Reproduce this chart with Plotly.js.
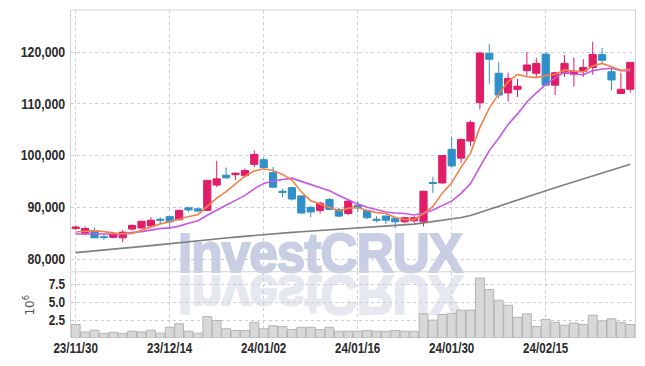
<!DOCTYPE html>
<html>
<head>
<meta charset="utf-8">
<script src="https://cdn.plot.ly/plotly-3.0.1.min.js"></script>
<style>
  html, body { margin:0; padding:0; background:#ffffff; }
  #wrap { position:relative; width:645px; height:366px; overflow:hidden; }
  #chart { position:absolute; left:0; top:0; width:645px; height:366px; z-index:2; }
  .wm { position:absolute; left:178px; top:225px; font-family:'Liberation Sans', Arial, sans-serif;
        font-weight:bold; font-size:56px; line-height:56px; white-space:nowrap; z-index:1;
        letter-spacing:-1px; }
  #wm1 { color:#c8cee3; -webkit-text-stroke:2px #c8cee3; transform-origin:0 0; transform:scaleX(0.915); }
  #wm2 { color:#e6e8f0; -webkit-text-stroke:2px #e6e8f0; transform-origin:0 49px; transform:scaleX(0.915) scaleY(-1); }
</style>
</head>
<body>
<div id="wrap">
  <div class="wm" id="wm1">InvestCRUX</div>
  <div class="wm" id="wm2">InvestCRUX</div>
  <div id="chart"></div>
</div>
<script>
const dates = ['23/11/30','23/12/01','23/12/04','23/12/05','23/12/06','23/12/07','23/12/08','23/12/11','23/12/12','23/12/13',
'23/12/14','23/12/15','23/12/18','23/12/19','23/12/20','23/12/21','23/12/22','23/12/26','23/12/27','23/12/28',
'24/01/02','24/01/03','24/01/04','24/01/05','24/01/08','24/01/09','24/01/10','24/01/11','24/01/12','24/01/15',
'24/01/16','24/01/17','24/01/18','24/01/19','24/01/22','24/01/23','24/01/24','24/01/25','24/01/26','24/01/29',
'24/01/30','24/01/31','24/02/01','24/02/02','24/02/05','24/02/06','24/02/07','24/02/08','24/02/13','24/02/14',
'24/02/15','24/02/16','24/02/19','24/02/20','24/02/21','24/02/22','24/02/23','24/02/26','24/02/27','24/02/28'];

const openP = [85900,85000,85400,84300,84200,84100,85800,86000,86400,87700,
88200,87600,89900,89700,89400,94300,96200,96300,96100,98300,
99200,96700,93100,93800,92200,90000,89400,91500,89600,88800,
90400,89400,87700,88300,87900,87200,87400,87200,94800,94700,
101200,99500,102800,110200,119700,115900,112100,112800,116400,115900,
119600,113600,115900,115700,116300,117000,119500,116200,112000,112800];
const highP = [86500,86300,86100,84700,85200,85600,86700,87400,88100,88100,
88300,89600,90100,89900,95300,99000,97700,96700,97500,101000,
99600,97800,93600,94000,92300,90200,91100,91800,89900,91400,
91200,89500,88300,88500,88200,88100,88300,93200,95900,100100,
103600,103300,106800,120000,121500,118100,116000,114800,120000,118900,
120000,116200,119400,118900,118600,122000,120800,116800,116000,118000];
const lowP = [85600,84600,84100,83700,84000,83300,85500,85900,86200,86900,
85700,87500,89100,89100,89300,93900,95500,95300,95700,97800,
97500,93700,92000,91300,88800,88100,88800,89500,88100,88500,
89100,87700,87100,86800,86000,86900,87000,86300,92800,94600,
97800,98600,101800,108900,113900,111000,110400,111300,115400,115200,
113500,111700,115200,113300,115200,115600,117800,112600,111900,112200];
const closeP = [86200,85900,84100,84200,84800,85200,86500,87300,87500,87500,
87200,89400,89500,89300,95200,95500,95700,96600,97100,100200,
97700,93900,92900,91600,88900,89100,90800,89600,88300,91200,
89900,88000,87500,87500,87200,88000,88000,93100,94600,100000,
98000,103100,106400,119800,118600,111700,114900,113400,117500,117800,
113600,116000,117800,116300,117000,119500,118400,114600,112800,118000];

const ma5 = [85230,85400,85500,85300,85040,84840,84960,85600,86260,86800,
87200,87780,88220,88580,90120,91780,93040,94460,96020,97020,
97460,97100,96360,95260,93000,91280,90660,90000,89340,89800,
89960,89400,88980,88820,88020,87640,87640,88760,90180,92740,
94740,97760,100420,105460,109180,111920,114280,115680,115220,115060,
115440,115660,116540,116300,116140,117320,117800,117160,116460,116660];
const ma10 = [84850,84850,84800,84800,84850,84950,85100,85300,85600,85920,
86020,86370,86910,87420,88460,89490,90410,91340,92300,93570,
94620,95070,95410,95640,95010,94370,93880,93180,92300,91400,
90620,90030,89490,89080,88910,88800,88520,88870,89500,90380,
91190,92700,94590,97820,100960,103330,106020,108050,110340,112120,
113680,114970,116110,115760,115600,116380,116730,116850,116380,116400];
const ma60 = [81250,81400,81560,81720,81900,82080,82260,82430,82600,82800,
83000,83170,83330,83500,83700,83900,84080,84250,84420,84580,
84750,84900,85030,85160,85280,85400,85530,85660,85800,85950,
86100,86190,86280,86370,86460,86560,86750,87000,87250,87480,
87720,88030,88400,89000,89650,90300,90900,91500,92100,92700,
93250,93800,94350,94900,95450,96050,96650,97150,97650,98300];
const volume = [1.9,0.85,1.1,0.65,0.8,0.65,0.95,0.85,1.1,0.68,
1.5,2.0,0.95,0.68,3.0,2.45,1.3,1.05,1.05,2.2,
1.3,1.72,1.6,1.2,1.5,1.5,1.2,1.5,0.95,0.95,
0.95,1.05,0.95,0.95,1.05,0.95,0.95,3.4,2.5,3.3,
3.45,3.9,3.9,8.4,6.8,5.3,4.6,2.9,3.4,1.6,
2.6,2.2,1.8,2.1,1.9,3.2,2.4,2.7,2.2,1.9];

const tickDates = [dates[0],dates[10],dates[20],dates[30],dates[40],dates[50]];
const priceTicks = [80000,90000,100000,110000,120000];
const volTicks = [2.5,5,7.5];
const volTickText = ['2.5','5.0','7.5'];

const UP = '#e11d68', DOWN = '#2f90c8';
const tickFont = {family:'Liberation Sans, Arial, sans-serif', size:14, color:'#2b2b2b', weight:'bold'};
const gridC = '#c9ccd9';

const traces = [
  {type:'bar', x:dates, y:volume, xaxis:'x', yaxis:'y2',
   marker:{color:'#d8d8d8', line:{color:'#b4b4b4', width:1}}, hoverinfo:'skip'},
  {type:'scatter', mode:'lines', x:dates, y:ma60, xaxis:'x', yaxis:'y',
   line:{color:'#7f7f7f', width:1.6}},
  {type:'scatter', mode:'lines', x:dates, y:ma10, xaxis:'x', yaxis:'y',
   line:{color:'#c656e6', width:1.6}},
  {type:'scatter', mode:'lines', x:dates, y:ma5, xaxis:'x', yaxis:'y',
   line:{color:'#f2824a', width:1.6}},
  {type:'candlestick', x:dates, open:openP, high:highP, low:lowP, close:closeP,
   xaxis:'x', yaxis:'y', whiskerwidth:0,
   increasing:{line:{color:UP, width:1}, fillcolor:UP},
   decreasing:{line:{color:DOWN, width:1}, fillcolor:DOWN}}
];

const layout = {
  width:645, height:366,
  margin:{l:71, r:10, t:10, b:28, pad:0},
  paper_bgcolor:'rgba(0,0,0,0)', plot_bgcolor:'rgba(0,0,0,0)',
  showlegend:false,
  bargap:0.06,
  boxgap:0.1, boxgroupgap:0.15,
  xaxis:{type:'category', range:[-0.5,59.5], anchor:'y2',
    tickmode:'array', tickvals:tickDates, ticktext:tickDates,
    showgrid:true, gridcolor:gridC, griddash:'dot', gridwidth:1,
    showline:false, zeroline:false, ticks:'', tickfont:tickFont,
    rangeslider:{visible:false}, fixedrange:true},
  yaxis:{domain:[0.204,1], range:[77680,128120],
    tickmode:'array', tickvals:priceTicks, tickformat:',d',
    showgrid:true, gridcolor:gridC, griddash:'dot', gridwidth:1,
    showline:true, linecolor:'#d3d3d3', linewidth:1, mirror:true,
    zeroline:false, ticks:'', tickfont:tickFont, ticklabelstandoff:2},
  yaxis2:{domain:[0,0.2], range:[0,9.2],
    tickmode:'array', tickvals:volTicks, ticktext:volTickText,
    showgrid:true, gridcolor:gridC, griddash:'dot', gridwidth:1,
    showline:true, linecolor:'#d3d3d3', linewidth:1, mirror:true,
    zeroline:false, ticks:'', tickfont:tickFont, ticklabelstandoff:2,
    title:{text:'10<sup>6</sup>', font:{family:'DejaVu Sans, sans-serif', size:12, color:'#555'}, standoff:8}},
  shapes:[
    {type:'line', xref:'paper', yref:'paper', x0:0, x1:1, y0:1, y1:1, line:{color:'#d3d3d3', width:1}},
    {type:'line', xref:'paper', yref:'paper', x0:0, x1:1, y0:0.202, y1:0.202, line:{color:'#d3d3d3', width:1}}
  ]
};

function condense(gd, sel, f){
  gd.querySelectorAll(sel).forEach(function(t){
    var w = t.getComputedTextLength();
    if (w > 0) {
      t.setAttribute('textLength', (w*f).toFixed(1));
      t.setAttribute('lengthAdjust', 'spacingAndGlyphs');
    }
  });
}

Plotly.newPlot('chart', traces, layout, {displayModeBar:false, staticPlot:true}).then(function(gd){
  // narrow the glyphs to mimic the condensed typeface of the reference
  condense(gd, '.xtick text', 0.83);
  condense(gd, '.ytick text', 0.88);
  condense(gd, '.y2tick text', 0.85);
});
</script>
</body>
</html>
